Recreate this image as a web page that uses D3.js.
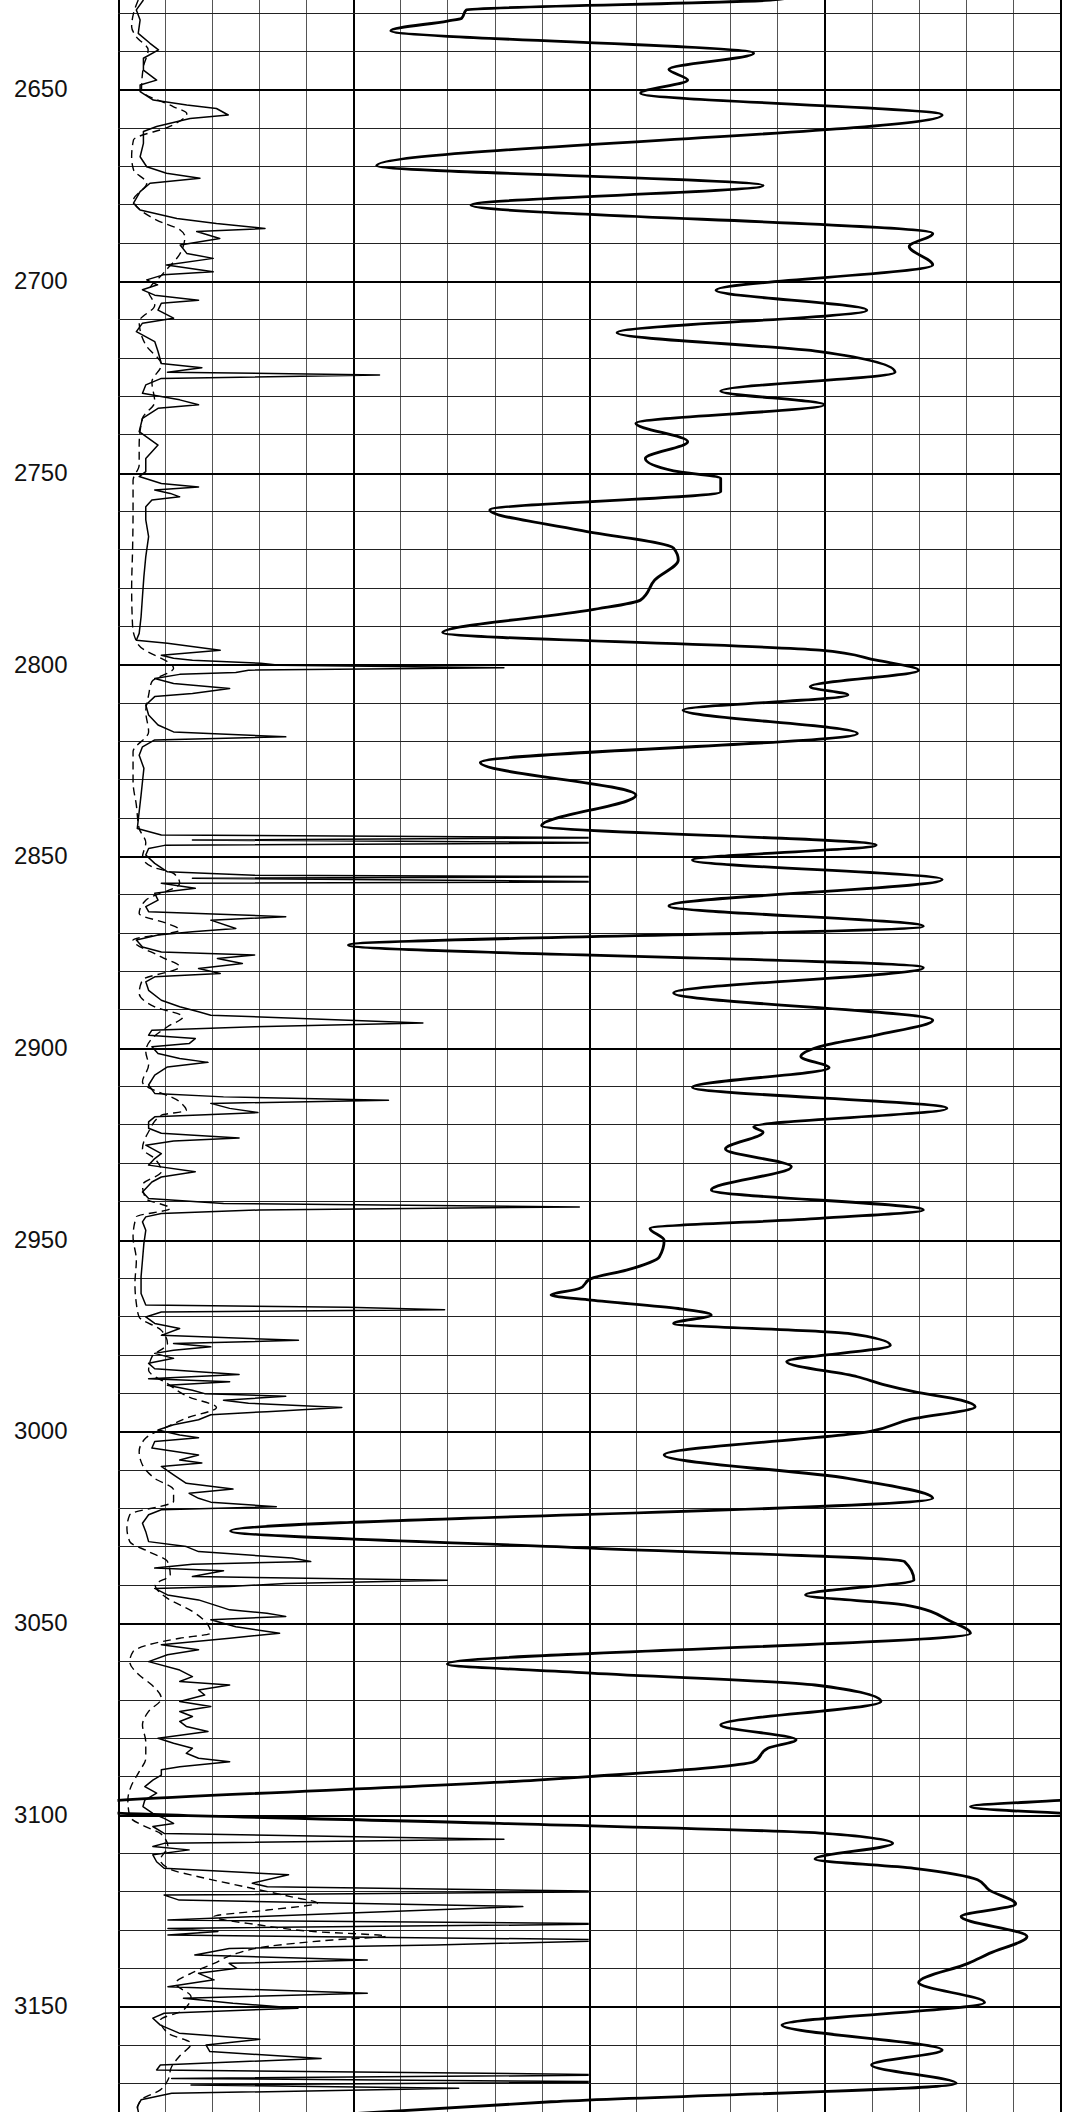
<!DOCTYPE html>
<html lang="en">
<head>
    <meta charset="UTF-8">
    <title>Well log</title>
    <script type="text/javascript" src="https://d3js.org/d3.v7.min.js"></script>
    <style>
        body { margin: 0; background: #fff; }
        svg { display: block; }
    </style>
</head>
<body>
    <svg width="1076" height="2112"></svg>
    <script>
        // depth labels on the left
        var depthLabels = [2650, 2700, 2750, 2800, 2850, 2900, 2950, 3000, 3050, 3100, 3150];

        // thick curve, [depth, track value 0-20]
        var resCurve = [
            [2626.0, 14.3], [2626.7, 13.9], [2629.3, 7.4], [2631.5, 7.3], [2632.2, 7.0], [2634.7, 5.8],
            [2640.6, 13.5], [2644.8, 11.7], [2647.6, 12.1], [2651.0, 11.1], [2656.7, 17.5], [2669.9, 5.5],
            [2675.1, 13.7], [2680.2, 7.5], [2687.6, 17.3], [2691.0, 16.8], [2695.8, 17.3], [2702.4, 12.7],
            [2707.6, 15.9], [2713.5, 10.6], [2718.4, 14.9], [2723.8, 16.5], [2728.7, 12.8], [2732.3, 15.0],
            [2737.1, 11.0], [2741.9, 12.1], [2746.3, 11.2], [2749.5, 11.8], [2751.5, 12.8], [2755.0, 12.8],
            [2759.7, 7.9], [2765.0, 9.8], [2769.7, 11.8], [2772.8, 11.9], [2778.0, 11.4], [2783.2, 11.1],
            [2785.8, 10.05], [2791.7, 6.9], [2796.3, 14.9], [2798.9, 16.1], [2801.5, 17.0], [2805.8, 14.7],
            [2808.0, 15.5], [2811.9, 12.0], [2818.0, 15.7], [2825.6, 7.7], [2834.1, 11.0], [2842.1, 9.0],
            [2847.1, 16.1], [2851.0, 12.2], [2856.1, 17.5], [2863.0, 11.7], [2868.3, 17.1], [2873.2, 4.9],
            [2879.1, 17.1], [2885.7, 11.8], [2892.8, 17.3], [2896.7, 16.1], [2899.7, 14.9], [2902.3, 14.5],
            [2905.2, 15.1], [2910.3, 12.2], [2915.8, 17.6], [2920.6, 13.5], [2922.0, 13.7], [2926.4, 12.9],
            [2931.0, 14.3], [2937.1, 12.6], [2942.3, 17.1], [2944.5, 14.9], [2947.1, 11.3], [2950.2, 11.6],
            [2954.5, 11.5], [2958.0, 10.8], [2960.2, 10.05], [2962.8, 9.8], [2964.5, 9.2], [2965.8, 10.05],
            [2968.0, 11.9], [2969.7, 12.6], [2971.9, 11.8], [2974.5, 15.5], [2977.6, 16.4], [2981.9, 14.2],
            [2985.8, 15.7], [2988.0, 16.3], [2989.7, 16.9], [2991.9, 17.9], [2993.6, 18.2], [2997.0, 16.8],
            [3000.0, 16.0], [3006.2, 11.6], [3012.3, 15.5], [3017.5, 17.3], [3026.0, 2.4], [3030.5, 10.05],
            [3034.0, 16.7], [3038.8, 16.9], [3042.7, 14.6], [3045.3, 16.7], [3049.7, 17.7], [3052.7, 18.1],
            [3060.7, 7.0], [3063.1, 10.05], [3066.2, 14.8], [3070.5, 16.2], [3076.6, 12.8], [3080.5, 14.4],
            [3082.7, 13.8], [3086.2, 13.5], [3087.5, 12.8], [3090.1, 10.0], [3091.0, 8.9], [3096.3, 0],
            [3097.9, -1.9], [3099.6, 0], [3102.3, 8.1], [3104.9, 15.0], [3107.5, 16.45], [3111.6, 14.8],
            [3114.0, 16.9], [3117.0, 18.25], [3119.7, 18.5], [3123.3, 19.06], [3126.6, 17.9], [3131.8, 19.3],
            [3136.2, 18.5], [3138.8, 18.05], [3143.8, 17.0], [3149.0, 18.4], [3154.9, 14.1], [3161.4, 17.5],
            [3165.3, 16.0], [3170.1, 17.8], [3174.9, 9.2], [3178.0, 5.0]
        ];

        // thin solid curve, [depth, track value 0-10] (clipped at 10)
        var grCurve = [
            [2626.7, 0.55], [2629.3, 0.4], [2631.9, 0.48], [2635.4, 0.44], [2638.0, 0.69], [2639.7, 0.87],
            [2641.9, 0.55], [2645.0, 0.55], [2647.6, 0.83], [2648.9, 0.48], [2650.6, 0.48], [2652.8, 0.76],
            [2654.1, 1.47], [2655.0, 2.1], [2656.7, 2.35], [2657.6, 1.54], [2659.7, 0.83], [2661.0, 0.55],
            [2664.1, 0.55], [2667.6, 0.48], [2670.2, 0.62], [2671.9, 1.04], [2673.2, 1.75], [2674.5, 0.69],
            [2676.7, 0.48], [2679.7, 0.34], [2681.5, 0.48], [2683.7, 1.26], [2685.0, 2.1], [2686.3, 3.13],
            [2687.1, 1.68], [2688.9, 2.17], [2690.6, 1.33], [2692.8, 1.47], [2694.1, 2.03], [2695.8, 1.04],
            [2697.6, 2.03], [2698.4, 0.97], [2699.7, 0.62], [2701.0, 0.85], [2702.3, 0.53], [2703.7, 0.79],
            [2705.0, 1.72], [2705.8, 0.93], [2707.6, 0.86], [2709.7, 1.19], [2711.0, 0.53], [2713.2, 0.4],
            [2715.8, 0.79], [2718.4, 0.86], [2721.5, 0.93], [2722.6, 1.79], [2723.8, 1.06], [2724.5, 5.56],
            [2725.4, 0.93], [2727.1, 0.6], [2729.3, 0.53], [2731.0, 1.32], [2732.3, 1.72], [2733.2, 0.86],
            [2735.8, 0.53], [2739.3, 0.46], [2742.8, 0.86], [2746.3, 0.6], [2749.7, 0.6], [2751.0, 0.46],
            [2752.8, 0.93], [2753.7, 1.72], [2754.5, 0.79], [2755.4, 1.12], [2756.3, 1.32], [2757.1, 0.73],
            [2758.9, 0.6], [2762.3, 0.6], [2766.7, 0.66], [2771.9, 0.6], [2777.1, 0.56], [2782.3, 0.53],
            [2787.6, 0.5], [2791.9, 0.46], [2793.7, 0.4], [2794.5, 1.06], [2796.3, 2.18], [2797.6, 0.93],
            [2798.4, 1.19], [2798.9, 1.59], [2799.7, 3.04], [2800.2, 3.44], [2800.9, 8.2], [2801.5, 2.78],
            [2802.1, 2.51], [2802.6, 1.32], [2803.7, 0.79], [2805.0, 1.19], [2806.3, 2.38], [2807.6, 1.59],
            [2808.4, 0.79], [2810.6, 0.6], [2813.2, 0.66], [2815.8, 0.86], [2817.6, 1.19], [2818.9, 3.57],
            [2819.7, 0.79], [2821.5, 0.53], [2823.7, 0.46], [2827.1, 0.56], [2830.6, 0.53], [2834.1, 0.5],
            [2838.4, 0.46], [2842.8, 0.42], [2844.5, 0.93], [2845.2, 11], [2845.8, 1.59], [2846.5, 11],
            [2847.2, 1.0], [2848.0, 0.66], [2849.7, 0.6], [2851.9, 0.79], [2854.1, 1.06], [2855.0, 2.9],
            [2855.4, 11], [2855.8, 1.59], [2856.7, 11], [2857.1, 0.93], [2858.4, 1.65], [2859.7, 0.79],
            [2861.5, 0.86], [2863.2, 0.6], [2864.5, 0.66], [2865.8, 3.57], [2866.7, 1.98], [2868.9, 2.51],
            [2869.7, 1.59], [2870.6, 0.86], [2871.9, 0.4], [2873.7, 0.53], [2875.0, 0.93], [2875.8, 2.91],
            [2876.7, 2.12], [2878.0, 2.65], [2879.3, 1.72], [2880.6, 2.18], [2881.5, 0.79], [2882.8, 0.6],
            [2885.0, 0.66], [2887.6, 0.93], [2889.3, 1.32], [2890.6, 1.72], [2891.5, 1.98], [2893.5, 6.48],
            [2894.5, 2.91], [2895.4, 0.73], [2896.7, 0.66], [2897.6, 1.65], [2898.9, 1.52], [2899.7, 0.73],
            [2901.5, 0.86], [2902.8, 1.32], [2903.8, 1.92], [2905.0, 1.06], [2907.1, 0.79], [2909.7, 0.66],
            [2911.9, 0.79], [2912.8, 2.25], [2913.7, 5.75], [2914.5, 1.98], [2915.8, 2.38], [2916.9, 2.98],
            [2918.0, 0.79], [2919.3, 0.66], [2921.0, 0.66], [2922.3, 0.93], [2923.5, 2.58], [2924.3, 1.19],
            [2925.4, 0.6], [2927.6, 0.93], [2928.9, 0.79], [2930.6, 0.66], [2932.3, 1.65], [2933.7, 0.93],
            [2935.0, 0.73], [2937.6, 0.53], [2939.3, 0.66], [2940.6, 2.25], [2941.5, 9.8], [2942.3, 3.0],
            [2943.2, 0.93], [2944.1, 0.6], [2945.4, 0.53], [2947.6, 0.6], [2951.0, 0.56], [2955.4, 0.53],
            [2959.7, 0.5], [2964.1, 0.5], [2967.1, 0.6], [2967.7, 4.89], [2968.3, 6.94], [2968.9, 0.93],
            [2970.2, 0.6], [2971.9, 0.79], [2973.2, 1.32], [2975.0, 0.93], [2976.3, 3.84], [2977.1, 1.19],
            [2978.0, 1.98], [2978.9, 1.19], [2979.7, 0.79], [2981.0, 1.19], [2982.3, 0.66], [2983.7, 0.79],
            [2985.2, 2.58], [2986.3, 0.66], [2987.1, 2.38], [2988.0, 1.06], [2989.3, 1.59], [2990.2, 1.85],
            [2990.9, 3.57], [2991.9, 2.25], [2992.7, 2.78], [2993.8, 4.76], [2994.9, 3.17], [2995.7, 1.98],
            [2997.0, 1.72], [2998.3, 1.19], [2999.7, 0.86], [3001.0, 1.32], [3001.7, 1.72], [3002.7, 0.79],
            [3004.4, 0.73], [3006.2, 1.72], [3007.5, 1.32], [3008.3, 1.79], [3009.2, 0.93], [3011.4, 1.19],
            [3013.6, 1.46], [3015.1, 2.45], [3016.2, 1.52], [3017.5, 1.72], [3018.5, 1.98], [3019.7, 3.37],
            [3020.5, 0.93], [3021.8, 0.66], [3024.0, 0.53], [3026.2, 0.6], [3028.8, 0.66], [3030.1, 1.46],
            [3031.4, 1.72], [3033.1, 3.7], [3034.0, 4.1], [3034.7, 1.59], [3035.7, 0.79], [3036.4, 2.25],
            [3037.9, 1.59], [3038.9, 7.0], [3039.7, 3.57], [3040.5, 2.38], [3041.0, 0.79], [3042.7, 1.06],
            [3044.0, 1.72], [3045.3, 2.05], [3046.6, 2.38], [3047.5, 3.17], [3048.3, 3.57], [3049.2, 1.98],
            [3051.0, 2.51], [3052.7, 3.44], [3054.0, 2.38], [3055.7, 0.93], [3057.0, 1.72], [3058.3, 1.06],
            [3060.1, 0.66], [3062.3, 1.32], [3064.0, 1.59], [3065.3, 1.32], [3066.2, 2.38], [3067.5, 1.72],
            [3068.8, 1.85], [3070.5, 1.32], [3071.8, 1.98], [3073.1, 1.32], [3074.4, 1.59], [3075.7, 1.32],
            [3077.0, 1.46], [3078.3, 1.92], [3080.1, 0.86], [3081.4, 1.19], [3082.7, 1.59], [3084.0, 1.46],
            [3085.3, 1.72], [3086.2, 2.38], [3087.5, 1.32], [3088.3, 0.93], [3089.7, 0.93], [3091.0, 0.75],
            [3092.7, 0.58], [3094.4, 0.83], [3096.2, 0.58], [3097.9, 0.54], [3099.7, 0.75], [3101.0, 0.99],
            [3102.3, 1.19], [3103.1, 0.75], [3104.9, 0.99], [3106.4, 8.2], [3107.5, 0.99], [3108.3, 0.75],
            [3109.2, 1.52], [3110.5, 0.75], [3112.3, 0.83], [3114.0, 0.99], [3115.7, 3.63], [3117.9, 2.86],
            [3118.8, 3.18], [3120.1, 11], [3121.0, 0.99], [3122.3, 1.31], [3124.0, 8.6], [3125.7, 4.8],
            [3127.5, 1.07], [3128.5, 11], [3129.7, 1.07], [3130.5, 2.13], [3131.4, 1.07], [3132.7, 11],
            [3134.0, 6.75], [3134.9, 2.37], [3136.6, 1.64], [3137.9, 5.3], [3138.8, 2.37], [3140.1, 2.53],
            [3141.4, 1.72], [3143.1, 2.05], [3144.9, 1.07], [3146.6, 5.3], [3147.9, 1.4], [3149.2, 2.45],
            [3150.5, 3.83], [3151.8, 0.99], [3153.1, 0.75], [3154.9, 0.91], [3157.0, 1.31], [3158.6, 3.02],
            [3160.1, 1.88], [3161.8, 1.96], [3163.6, 4.32], [3165.3, 0.91], [3166.6, 0.83], [3167.9, 11],
            [3168.8, 1.15], [3169.7, 11], [3170.5, 1.56], [3171.4, 7.24], [3172.7, 1.15], [3174.4, 0.5],
            [3176.2, 0.42], [3178.0, 0.45]
        ];

        // dashed curve, [depth, track value 0-10]
        var dashCurve = [
            [2626.7, 0.44], [2630.2, 0.34], [2633.7, 0.3], [2636.3, 0.4], [2639.7, 0.65], [2644.1, 0.55],
            [2650.2, 0.51], [2654.5, 1.18], [2656.3, 1.47], [2659.7, 1.11], [2663.2, 0.34], [2667.6, 0.3],
            [2671.0, 0.34], [2674.5, 0.62], [2678.9, 0.34], [2684.1, 0.83], [2686.7, 1.33], [2688.4, 1.43],
            [2692.8, 1.33], [2698.0, 0.97], [2702.8, 0.66], [2706.3, 0.79], [2710.6, 0.46], [2716.7, 0.6],
            [2721.9, 0.93], [2726.3, 0.73], [2731.5, 0.79], [2735.8, 0.53], [2742.8, 0.46], [2748.0, 0.46],
            [2752.0, 0.33], [2760.0, 0.33], [2770.0, 0.32], [2780.0, 0.3], [2790.0, 0.32], [2795.0, 0.45],
            [2801.0, 1.19], [2804.5, 0.73], [2808.0, 0.66], [2812.3, 0.6], [2817.6, 0.66], [2822.8, 0.33],
            [2830.6, 0.33], [2836.7, 0.4], [2842.8, 0.46], [2846.5, 0.6], [2850.2, 0.53], [2852.8, 0.73],
            [2854.5, 1.19], [2857.1, 1.32], [2861.5, 0.6], [2865.0, 0.46], [2867.6, 1.06], [2869.3, 1.32],
            [2871.9, 0.33], [2876.3, 0.93], [2878.9, 1.32], [2882.3, 0.53], [2885.8, 0.46], [2889.3, 0.79],
            [2891.9, 1.39], [2894.5, 1.06], [2897.6, 0.73], [2901.0, 0.6], [2904.5, 0.66], [2908.9, 0.53],
            [2914.1, 1.32], [2916.3, 1.46], [2917.6, 0.93], [2921.9, 0.66], [2926.3, 0.53], [2928.9, 0.79],
            [2932.3, 0.93], [2935.8, 0.53], [2939.3, 0.6], [2941.9, 1.12], [2944.1, 0.4], [2949.3, 0.33],
            [2955.4, 0.4], [2961.5, 0.37], [2966.7, 0.4], [2970.2, 0.46], [2973.7, 0.93], [2977.1, 1.06],
            [2980.6, 0.73], [2984.1, 0.66], [2987.6, 1.06], [2991.0, 1.5], [2993.8, 2.1], [2996.6, 1.46],
            [2998.8, 1.06], [3001.8, 0.6], [3005.3, 0.46], [3008.8, 0.53], [3012.3, 0.79], [3015.3, 1.19],
            [3018.3, 1.19], [3021.8, 0.26], [3025.3, 0.2], [3028.8, 0.26], [3031.4, 0.66], [3034.0, 1.06],
            [3037.5, 1.12], [3040.1, 0.8], [3043.6, 1.06], [3047.0, 1.59], [3050.5, 1.92], [3052.7, 1.98],
            [3054.0, 1.32], [3055.7, 0.66], [3057.5, 0.33], [3060.1, 0.26], [3063.6, 0.46], [3066.2, 0.73],
            [3069.7, 0.93], [3073.1, 0.66], [3076.6, 0.53], [3081.0, 0.6], [3085.3, 0.6], [3088.8, 0.46],
            [3092.3, 0.3], [3096.2, 0.22], [3100.5, 0.26], [3103.1, 0.58], [3104.9, 0.91], [3108.3, 1.07],
            [3111.8, 0.91], [3114.4, 1.15], [3116.2, 1.72], [3118.8, 2.69], [3121.4, 3.67], [3123.1, 4.24],
            [3124.9, 3.18], [3126.6, 2.05], [3128.8, 3.02], [3130.5, 4.16], [3131.7, 5.7], [3132.7, 4.56],
            [3134.4, 3.18], [3136.2, 2.53], [3138.8, 2.05], [3141.4, 1.56], [3144.0, 1.23], [3147.5, 1.56],
            [3151.0, 1.4], [3153.6, 0.91], [3157.0, 1.07], [3159.7, 1.56], [3163.1, 1.31], [3165.7, 1.15],
            [3169.2, 1.07], [3171.8, 0.91], [3174.4, 0.5], [3176.6, 0.42]
        ];

        var svg = d3.select("svg");
        var width = +svg.attr("width");
        var height = +svg.attr("height");

        var left = 117.5, right = 1060;

        var y = d3.scaleLinear()
            .domain([2650, 3150])
            .range([89.3, 2006.3]);

        // whole grid, 20 divisions
        var xTrack = d3.scaleLinear().domain([0, 20]).range([left, right]);
        // left curves use the first two tracks
        var xGr = d3.scaleLinear().domain([0, 10]).range([left, xTrack(10)]);

        var defs = svg.append("defs");
        defs.append("clipPath").attr("id", "clipAll")
            .append("rect")
            .attr("x", left).attr("y", 0)
            .attr("width", right - left).attr("height", height);
        defs.append("clipPath").attr("id", "clipGr")
            .append("rect")
            .attr("x", left).attr("y", 0)
            .attr("width", xTrack(10) - left).attr("height", height);

        svg.append("rect")
            .attr("width", width).attr("height", height)
            .attr("fill", "#fff");

        // grid
        var grid = svg.append("g").attr("shape-rendering", "crispEdges");
        var depthLines = d3.range(2630, 3180, 10);

        grid.selectAll(".vline")
            .data(d3.range(0, 21))
            .enter()
            .append("line")
            .attr("y1", 0).attr("y2", height)
            .attr("x1", d => Math.round(xTrack(d)) + 0.5)
            .attr("x2", d => Math.round(xTrack(d)) + 0.5)
            .attr("stroke", d => d % 5 === 0 ? "#000" : "#555")
            .attr("stroke-width", d => d % 5 === 0 ? 2 : 1);

        grid.selectAll(".hline")
            .data(depthLines)
            .enter()
            .append("line")
            .attr("x1", left).attr("x2", right)
            .attr("y1", d => Math.round(y(d)) + 0.5)
            .attr("y2", d => Math.round(y(d)) + 0.5)
            .attr("stroke", d => d % 50 === 0 ? "#000" : "#222")
            .attr("stroke-width", d => d % 50 === 0 ? 2 : 1);

        // depth labels
        var axis = d3.axisLeft(y)
            .tickValues(depthLabels)
            .tickSize(0)
            .tickPadding(50)
            .tickFormat(d3.format("d"));

        var axisG = svg.append("g")
            .attr("transform", "translate(" + left + ",0)")
            .call(axis);
        axisG.select(".domain").remove();
        axisG.selectAll("text")
            .attr("font-family", "Liberation Sans, Arial, sans-serif")
            .attr("font-size", 24)
            .attr("fill", "#111");

        // curves
        var grLine = d3.line()
            .x(d => xGr(d[1]))
            .y(d => y(d[0]));

        var dashLine = d3.line()
            .x(d => xGr(d[1]))
            .y(d => y(d[0]))
            .curve(d3.curveMonotoneY);

        var resLine = d3.line()
            .x(d => xTrack(d[1]))
            .y(d => y(d[0]))
            .curve(d3.curveMonotoneY);

        var grG = svg.append("g").attr("clip-path", "url(#clipGr)");

        grG.append("path")
            .datum(dashCurve)
            .attr("d", dashLine)
            .attr("fill", "none")
            .attr("stroke", "#000")
            .attr("stroke-width", 1.4)
            .style("stroke-dasharray", ("8,5"));

        grG.append("path")
            .datum(grCurve)
            .attr("d", grLine)
            .attr("fill", "none")
            .attr("stroke", "#000")
            .attr("stroke-width", 1.5)
            .attr("stroke-linejoin", "round");

        var resG = svg.append("g").attr("clip-path", "url(#clipAll)");

        resG.append("path")
            .datum(resCurve)
            .attr("d", resLine)
            .attr("fill", "none")
            .attr("stroke", "#000")
            .attr("stroke-width", 2.8)
            .attr("stroke-linejoin", "round");

        // backup wrap: values below 0 show again from the right edge
        resG.append("path")
            .datum(resCurve)
            .attr("d", resLine)
            .attr("transform", "translate(" + (xTrack(20) - xTrack(0)) + ",0)")
            .attr("fill", "none")
            .attr("stroke", "#000")
            .attr("stroke-width", 2.8)
            .attr("stroke-linejoin", "round");
    </script>
</body>
</html>
